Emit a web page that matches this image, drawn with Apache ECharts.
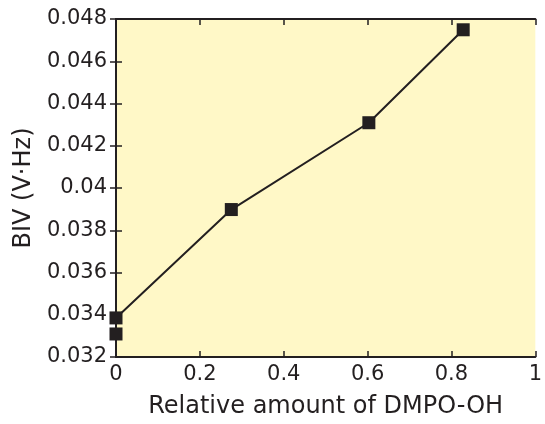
<!DOCTYPE html>
<html>
<head>
<meta charset="utf-8">
<script src="https://cdn.jsdelivr.net/npm/echarts@6/dist/echarts.min.js"></script>
<style>
  html, body { margin: 0; padding: 0; background: #ffffff; }
  #chart { width: 545px; height: 424px; }
</style>
</head>
<body>
<div id="chart"></div>
<script>
// connected measurements
const amounts = [0, 0.275, 0.603, 0.828];
const bivValues = [0.03385, 0.03898, 0.04309, 0.04749];
// lone point at zero
const extraAmounts = [0];
const extraBiv = [0.03309];

const xTitle = "Relative amount of DMPO-OH";
const yTitle = "BIV (V\u00b7Hz)";

const ink = "#231f20";
const font = "DejaVu Sans";

const chart = echarts.init(document.getElementById("chart"), null, { renderer: "canvas" });

const lineData = amounts.map((x, i) => [x, bivValues[i]]);
const extraData = extraAmounts.map((x, i) => [x, extraBiv[i]]);

const axisBase = {
  type: "value",
  axisLine: { show: true, lineStyle: { color: ink, width: 2 } },
  axisTick: { show: true, inside: true, length: 6, lineStyle: { color: ink, width: 1.5 } },
  splitLine: { show: false }
};

const option = {
  animation: false,
  grid: {
    left: 116, right: 4, top: 19, bottom: 63,
    show: true, backgroundColor: "#fff8c7", borderWidth: 0
  },
  xAxis: [
    Object.assign({}, axisBase, {
      min: 0, max: 1, interval: 0.2, position: "bottom",
      axisLabel: { color: ink, fontSize: 21, fontFamily: font, margin: 7 },
      name: xTitle, nameLocation: "middle", nameGap: 38,
      nameTextStyle: { color: ink, fontSize: 24, fontFamily: font }
    }),
    Object.assign({}, axisBase, {
      min: 0, max: 1, interval: 0.2, position: "top",
      axisLabel: { show: false }
    })
  ],
  yAxis: [
    Object.assign({}, axisBase, {
      min: 0.032, max: 0.048, interval: 0.002, position: "left",
      axisLabel: { color: ink, fontSize: 21, fontFamily: font, margin: 9 },
      name: yTitle, nameLocation: "middle", nameGap: 80,
      nameTextStyle: { color: ink, fontSize: 24, fontFamily: font }
    }),
    Object.assign({}, axisBase, {
      min: 0.032, max: 0.048, interval: 0.002, position: "right",
      axisLabel: { show: false }
    })
  ],
  series: [
    {
      type: "line",
      data: lineData,
      clip: false,
      symbol: "rect",
      symbolSize: 13,
      lineStyle: { color: ink, width: 2 },
      itemStyle: { color: ink, opacity: 1 }
    },
    {
      type: "scatter",
      data: extraData,
      clip: false,
      symbol: "rect",
      symbolSize: 13,
      itemStyle: { color: ink, opacity: 1 }
    }
  ]
};

chart.setOption(option);
</script>
</body>
</html>
